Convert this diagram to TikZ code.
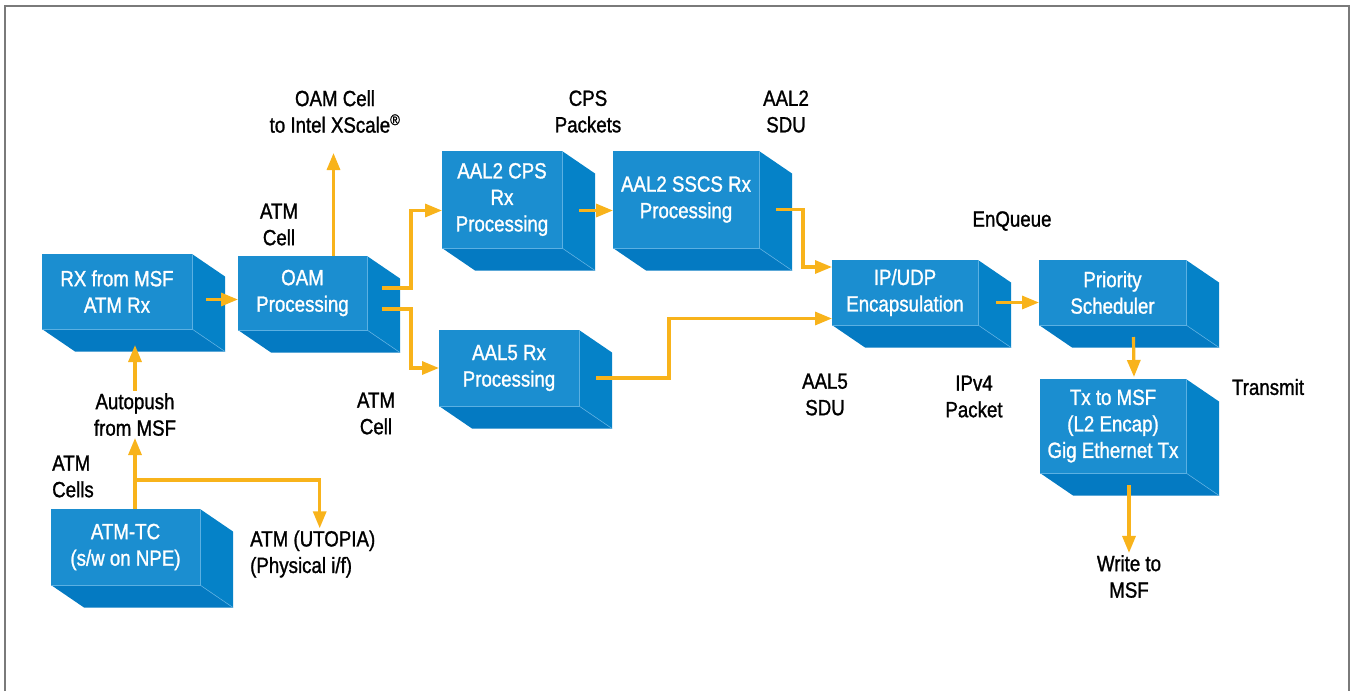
\documentclass[tikz,border=0pt]{standalone}
\usepackage{fontspec}
\newfontfamily\diagfont{Liberation Sans}[FakeStretch=0.85, FakeBold=1.2]
\usetikzlibrary{calc, arrows.meta}
\definecolor{flowline}{HTML}{F8B31B}
\definecolor{facefront}{HTML}{1B8ED0}
\definecolor{faceside}{HTML}{0582C8}
\definecolor{facebottom}{HTML}{047AC2}
\definecolor{faceedge}{HTML}{5BB0E2}
\definecolor{frameline}{HTML}{7A7A7A}

\begin{document}
\begin{tikzpicture}[x=1pt, y=-1pt,
    box/.style={fill=facefront, text=white, inner sep=0pt, outer sep=0pt, align=center,
        font=\diagfont\fontsize{22}{26.5}\selectfont},
    lbl/.style={text=black, align=center, inner sep=2pt,
        font=\diagfont\fontsize{22}{26.5}\selectfont},
    lbll/.style={lbl, align=left},
    flow/.style={draw=flowline, line width=3.2pt, -{Triangle[length=17pt, width=13pt]}},
    edge/.style={draw=faceedge, line width=0.6pt}
    ]
    \useasboundingbox (0, 0) rectangle (1352, 691);
    \draw[frameline, line width=1.5pt] (5, 691) -- (5, 6) -- (1349, 6) -- (1349, 691);

    \node[box, minimum width=150pt, minimum height=75pt] (rx) at (117, 291.5) {RX from MSF\\ATM Rx};
    \node[box, minimum width=129pt, minimum height=74pt] (oam) at (302.5, 293) {OAM\\Processing};
    \node[box, minimum width=120pt, minimum height=97pt] (cps) at (502, 199.5) {AAL2 CPS\\Rx\\Processing};
    \node[box, minimum width=146pt, minimum height=97pt] (sscs) at (686, 199.5) {AAL2 SSCS Rx\\Processing};
    \node[box, minimum width=146pt, minimum height=65pt] (ipudp) at (905, 292.5) {IP/UDP\\Encapsulation};
    \node[box, minimum width=147pt, minimum height=65pt] (prio) at (1112.5, 292.5) {Priority\\Scheduler};
    \node[box, minimum width=146pt, minimum height=94pt] (tx) at (1113, 426) {Tx to MSF\\(L2 Encap)\\Gig Ethernet Tx};
    \node[box, minimum width=140pt, minimum height=76pt] (aal5) at (509, 368) {AAL5 Rx\\Processing};
    \node[box, minimum width=149pt, minimum height=76pt] (atmtc) at (125.5, 547) {ATM-TC\\(s/w on NPE)};

    \foreach \b in {rx, oam, cps, sscs, ipudp, prio, tx, aal5, atmtc} {
        \fill[faceside] (\b.north east) -- ++(33, 22.5) -- ($(\b.south east) + (33, 22.5)$) -- (\b.south east) -- cycle;
        \fill[facebottom] (\b.south west) -- (\b.south east) -- ++(33, 22.5) -- ($(\b.south west) + (33, 22.5)$) -- cycle;
        \draw[edge] (\b.north east) -- (\b.south east) -- (\b.south west);
        \draw[edge] (\b.south east) -- ++(33, 22.5);
    }

    \node[lbl] (xscale) at (335, 111.5) {OAM Cell\\to Intel XScale\textsuperscript{®}};
    \node[lbl] (cpspk) at (588, 111.5) {CPS\\Packets};
    \node[lbl] (aal2sdu) at (786, 111.5) {AAL2\\SDU};
    \node[lbl] (atmcell) at (279, 224.5) {ATM\\Cell};
    \node[lbl] (enqueue) at (1012, 221) {EnQueue};
    \node[lbl] (autopush) at (135, 414.5) {Autopush\\from MSF};
    \node[lbll, anchor=west] (atmcells) at (50, 476.5) {ATM\\Cells};
    \node[lbll, anchor=west] (utopia) at (248, 554) {ATM (UTOPIA)\\(Physical i/f)};
    \node[lbl] (atmcellb) at (376, 413.5) {ATM\\Cell};
    \node[lbl] (aal5sdu) at (825, 394.5) {AAL5\\SDU};
    \node[lbl] (ipv4) at (974, 396.5) {IPv4\\Packet};
    \node[lbl] (transmit) at (1268, 387) {Transmit};
    \node[lbl] (write) at (1129, 576.5) {Write to\\MSF};

    \coordinate (tap) at ($(atmtc.north) + (9.5, -29)$);

    \draw[flow] ([xshift=18pt]rx.south |- autopush.north) -- ([xshift=18pt, yshift=-16pt]rx.south);
    \draw[flow] (atmtc.north -| autopush.south) -- (autopush.south);
    \draw[flow] (tap) -| ([xshift=7pt]utopia.north);
    \draw[flow] ($(rx.east) + (14, 8)$) -- ($(oam.west) + (0, 6.5)$);
    \draw[flow] ([xshift=31pt]oam.north) -- ++(0, -103);
    \draw[flow] ($(oam.east) + (15, -5)$) -- ++(29, 0) |- ([yshift=-11pt]cps.west);
    \draw[flow] ($(oam.east) + (15, 16)$) -- ++(29, 0) |- (aal5.west);
    \draw[flow] ($(cps.east) + (17, 11)$) -- ($(sscs.west) + (0, 11)$);
    \draw[flow] ($(sscs.east) + (17, 10)$) -- ++(27, 0) |- ([yshift=25.5pt]ipudp.west);
    \draw[flow] ($(aal5.east) + (17, 10)$) -- ++(73, 0) |- ([yshift=-26pt]ipudp.west);
    \draw[flow] ($(ipudp.east) + (18, 10)$) -- ($(prio.west) + (0, 10)$);
    \draw[flow] ($(prio.south) + (21, 12)$) -- ($(tx.north) + (21, -2)$);
    \draw[flow] ($(tx.south) + (16, 12)$) -- (write.north);
\end{tikzpicture}
\end{document}
